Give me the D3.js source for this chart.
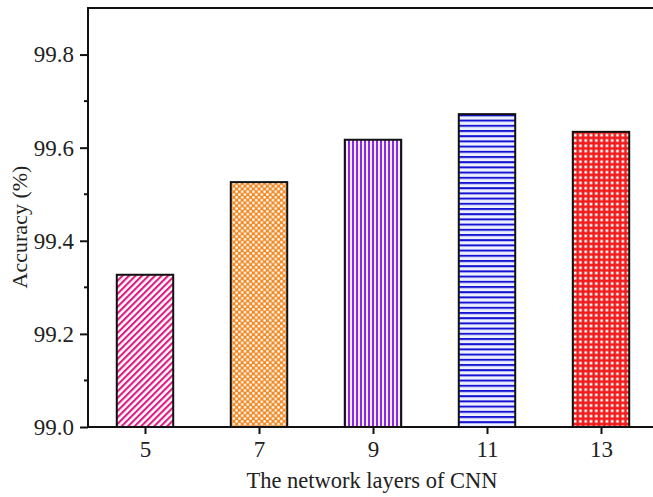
<!DOCTYPE html>
<html>
<head>
<meta charset="utf-8">
<script src="https://cdn.jsdelivr.net/npm/d3@7"></script>
<style>
  html, body { margin: 0; padding: 0; background: #fff; }
  svg { display: block; }
  text { font-family: "Liberation Serif", "Times New Roman", serif; fill: #222; }
</style>
</head>
<body>
<svg id="chart" width="653" height="497"></svg>
<script>
// ---- data ----
const categories = [5, 7, 9, 11, 13];
const accuracy = [99.327, 99.526, 99.617, 99.672, 99.634];
const yTicks = [99.0, 99.2, 99.4, 99.6, 99.8];
const xLabel = "The network layers of CNN";
const yLabel = "Accuracy (%)";

const svg = d3.select("#chart");
const margin = { left: 88, top: 8, right: -5, bottom: 70 };
const W = 653, H = 497;
const x = d3.scaleLinear().domain([4, 14]).range([margin.left, W - margin.right]);
const y = d3.scaleLinear().domain([99.0, 99.9]).range([H - margin.bottom, margin.top]);

// ---- patterns ----
const defs = svg.append("defs");
// 5: magenta diagonal
let p = defs.append("pattern").attr("id", "p0").attr("patternUnits", "userSpaceOnUse")
  .attr("width", 4.6).attr("height", 10).attr("patternTransform", "rotate(45)");
p.append("rect").attr("width", 4.6).attr("height", 10).attr("fill", "#fff");
p.append("rect").attr("width", 2.1).attr("height", 10).attr("fill", "#dc1a82");
// 7: orange crosshatch with white dots
p = defs.append("pattern").attr("id", "p1").attr("patternUnits", "userSpaceOnUse")
  .attr("width", 5.6).attr("height", 5.6);
p.append("rect").attr("width", 5.6).attr("height", 5.6).attr("fill", "#f28a26");
p.append("circle").attr("cx", 1.4).attr("cy", 1.4).attr("r", 1.3).attr("fill", "#fff");
p.append("circle").attr("cx", 4.2).attr("cy", 4.2).attr("r", 1.3).attr("fill", "#fff");
// 9: purple vertical
p = defs.append("pattern").attr("id", "p2").attr("patternUnits", "userSpaceOnUse")
  .attr("width", 4).attr("height", 4);
p.append("rect").attr("width", 4).attr("height", 4).attr("fill", "#f4ecfc");
p.append("rect").attr("width", 2).attr("height", 4).attr("fill", "#8a2be2");
// 11: blue horizontal
p = defs.append("pattern").attr("id", "p3").attr("patternUnits", "userSpaceOnUse")
  .attr("width", 4).attr("height", 5.2);
p.append("rect").attr("width", 4).attr("height", 5.2).attr("fill", "#eef0ff");
p.append("rect").attr("width", 4).attr("height", 2).attr("fill", "#1414d2");
// 13: red grid with white squares
p = defs.append("pattern").attr("id", "p4").attr("patternUnits", "userSpaceOnUse")
  .attr("width", 5.3).attr("height", 5.3);
p.append("rect").attr("width", 5.3).attr("height", 5.3).attr("fill", "#f01c1c");
p.append("rect").attr("x", 1.4).attr("y", 1.4).attr("width", 2.6).attr("height", 2.6).attr("fill", "#fff");

// ---- bars ----
const barW = 0.99; // in data units
svg.append("g").selectAll("rect").data(categories).join("rect")
  .attr("x", (d) => x(d - barW / 2))
  .attr("width", (d) => x(d + barW / 2) - x(d - barW / 2))
  .attr("y", (d, i) => y(accuracy[i]))
  .attr("height", (d, i) => y(99.0) - y(accuracy[i]))
  .attr("fill", (d, i) => `url(#p${i})`)
  .attr("stroke", "#111").attr("stroke-width", 2);

// ---- frame ----
svg.append("rect")
  .attr("x", x(4)).attr("y", y(99.9))
  .attr("width", x(14) - x(4)).attr("height", y(99.0) - y(99.9))
  .attr("fill", "none").attr("stroke", "#111").attr("stroke-width", 2);

// ---- y axis ----
const yAxis = svg.append("g").attr("transform", `translate(${x(4)},0)`)
  .call(d3.axisLeft(y).tickValues(yTicks).tickFormat(d3.format(".1f")).tickSize(8).tickPadding(6));
yAxis.select(".domain").remove();
yAxis.selectAll("line").attr("stroke", "#111").attr("stroke-width", 2);
yAxis.selectAll("text").style("font-size", "23px").style("font-family", "Liberation Serif").attr("fill", "#222");
// minor ticks
const minor = d3.range(0, 4).map((i) => yTicks[i] + 0.1);
svg.append("g").selectAll("line").data(minor).join("line")
  .attr("x1", x(4) - 4).attr("x2", x(4))
  .attr("y1", (d) => y(d)).attr("y2", (d) => y(d))
  .attr("stroke", "#111").attr("stroke-width", 2);

// ---- x axis ----
const xAxis = svg.append("g").attr("transform", `translate(0,${y(99.0)})`)
  .call(d3.axisBottom(x).tickValues(categories).tickFormat(d3.format("d")).tickSize(7).tickPadding(7));
xAxis.select(".domain").remove();
xAxis.selectAll("line").attr("stroke", "#111").attr("stroke-width", 2);
xAxis.selectAll("text").style("font-size", "23px").style("font-family", "Liberation Serif").attr("fill", "#222");

// ---- titles ----
svg.append("text").attr("x", 372).attr("y", 488).attr("text-anchor", "middle")
  .style("font-size", "22.5px").text(xLabel);
svg.append("text").attr("transform", `translate(27,227) rotate(-90)`).attr("text-anchor", "middle")
  .style("font-size", "22px").text(yLabel);
</script>
</body>
</html>
